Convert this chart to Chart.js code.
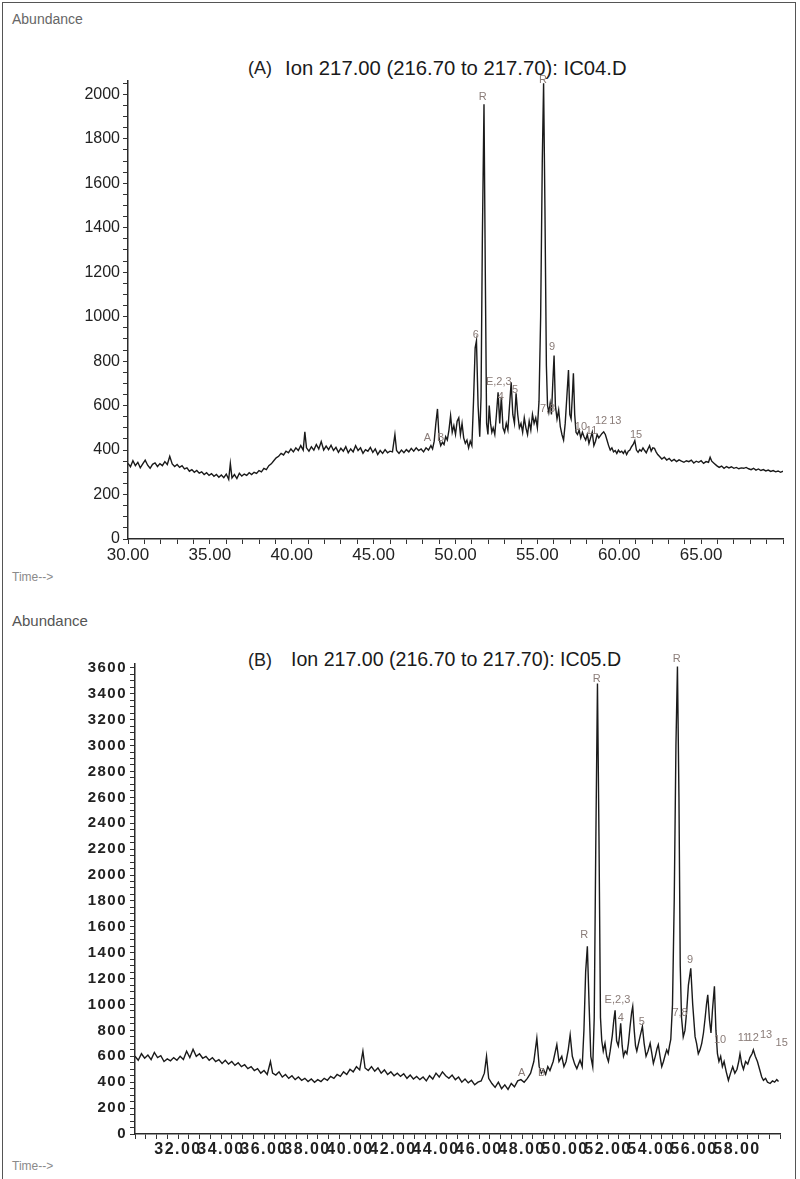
<!DOCTYPE html>
<html>
<head>
<meta charset="utf-8">
<script src="https://cdn.jsdelivr.net/npm/chart.js@4.4.1/dist/chart.umd.min.js"></script>
<style>
	html, body { margin: 0; padding: 0; background: #fff; }
	body { width: 800px; height: 1179px; position: relative; overflow: hidden; font-family: "Liberation Sans", Arial, sans-serif; }
	.frame { position: absolute; left: 2px; top: 2px; width: 794px; height: 1200px; border: 1.5px solid #555; box-sizing: border-box; }
	canvas { position: absolute; left: 0; }
	.txt { position: absolute; white-space: nowrap; line-height: 1; transform: translateY(-50%); }
	.abund { color: #666; }
	.panel-id { font-family: "Liberation Sans Narrow", "Liberation Sans", sans-serif; font-size: 18px; color: #222; }
	.title { color: #1a1a1a; }
	.time { color: #8a8a8a; font-size: 12px; }
</style>
</head>
<body>
<div class="frame"></div>

<div class="txt abund" style="left:12px; top:19px; font-size:14px;">Abundance</div>
<div class="txt panel-id" style="left:248px; top:68px;">(A)</div>
<div class="txt title" style="left:285px; top:68px; font-size:20.3px;">Ion 217.00 (216.70 to 217.70): IC04.D</div>
<div class="txt time" style="left:12px; top:577px;">Time--&gt;</div>

<div class="txt abund" style="left:12px; top:620px; font-size:15px; color:#555;">Abundance</div>
<div class="txt panel-id" style="left:248px; top:660px;">(B)</div>
<div class="txt title" style="left:291px; top:660px; font-size:19.6px;">Ion 217.00 (216.70 to 217.70): IC05.D</div>
<div class="txt time" style="left:12px; top:1166px;">Time--&gt;</div>

<canvas id="chart-a" width="800" height="600" style="top:0px;"></canvas>
<canvas id="chart-b" width="800" height="579" style="top:600px;"></canvas>

<script>
// Ion 217 trace, run IC04.D: [retention time (min), abundance]
const traceA = [
	[30.00, 340], [30.15, 325], [30.30, 352], [30.45, 330], [30.60, 345], [30.75, 320], [30.90, 338], [31.05, 355],
	[31.20, 332], [31.35, 318], [31.50, 336], [31.65, 342], [31.80, 326], [31.95, 339], [32.10, 330], [32.25, 348],
	[32.40, 335], [32.55, 372], [32.70, 338], [32.85, 326], [33.00, 335], [33.15, 322], [33.30, 330], [33.45, 315],
	[33.60, 320], [33.75, 305], [33.90, 312], [34.05, 300], [34.20, 308], [34.35, 296], [34.50, 302], [34.65, 290],
	[34.80, 298], [34.95, 286], [35.10, 294], [35.25, 282], [35.40, 290], [35.55, 278], [35.70, 288], [35.85, 276],
	[36.00, 292], [36.15, 268], [36.25, 340], [36.35, 275], [36.50, 290], [36.65, 272], [36.80, 296], [36.95, 283],
	[37.10, 292], [37.25, 286], [37.40, 298], [37.55, 290], [37.70, 300], [37.85, 295], [38.00, 308], [38.15, 302],
	[38.30, 318], [38.45, 312], [38.60, 330], [38.75, 338], [38.90, 352], [39.05, 365], [39.20, 372], [39.35, 385],
	[39.50, 378], [39.65, 395], [39.80, 388], [39.95, 405], [40.10, 392], [40.25, 410], [40.40, 398], [40.55, 420],
	[40.70, 400], [40.80, 482], [40.90, 410], [41.05, 395], [41.20, 415], [41.35, 400], [41.50, 425], [41.65, 405],
	[41.80, 438], [41.95, 400], [42.10, 418], [42.25, 402], [42.40, 422], [42.55, 398], [42.70, 412], [42.85, 390],
	[43.00, 408], [43.15, 395], [43.30, 415], [43.45, 388], [43.60, 405], [43.75, 392], [43.90, 420], [44.05, 398],
	[44.20, 410], [44.35, 385], [44.50, 402], [44.65, 395], [44.80, 412], [44.95, 390], [45.10, 405], [45.25, 380],
	[45.40, 398], [45.55, 385], [45.70, 402], [45.85, 388], [46.00, 395], [46.15, 392], [46.30, 470], [46.40, 398],
	[46.55, 385], [46.70, 400], [46.85, 388], [47.00, 402], [47.15, 392], [47.30, 408], [47.45, 395], [47.60, 410],
	[47.75, 398], [47.90, 405], [48.05, 392], [48.20, 410], [48.35, 400], [48.50, 420], [48.60, 405], [48.70, 440],
	[48.80, 520], [48.90, 585], [49.00, 450], [49.10, 420], [49.20, 435], [49.30, 425], [49.40, 460], [49.50, 445],
	[49.60, 490], [49.70, 555], [49.80, 480], [49.90, 510], [50.00, 470], [50.10, 530], [50.20, 545], [50.30, 470],
	[50.40, 520], [50.50, 455], [50.60, 430], [50.70, 445], [50.80, 410], [50.90, 440], [51.00, 420], [51.10, 620],
	[51.20, 860], [51.28, 892], [51.38, 600], [51.48, 460], [51.56, 640], [51.64, 1350], [51.74, 1955], [51.82, 1200],
	[51.90, 520], [51.98, 470], [52.06, 600], [52.14, 520], [52.22, 480], [52.30, 500], [52.40, 470], [52.50, 560],
	[52.60, 660], [52.70, 520], [52.80, 640], [52.90, 500], [53.00, 480], [53.10, 520], [53.20, 490], [53.30, 600],
	[53.40, 705], [53.50, 560], [53.60, 520], [53.70, 655], [53.80, 560], [53.90, 500], [54.00, 520], [54.10, 480],
	[54.20, 545], [54.30, 500], [54.40, 470], [54.50, 530], [54.60, 490], [54.70, 560], [54.80, 520], [54.90, 545],
	[55.00, 500], [55.10, 620], [55.20, 1000], [55.30, 1700], [55.38, 2050], [55.46, 1500], [55.55, 780], [55.62, 600],
	[55.70, 570], [55.78, 610], [55.86, 560], [55.94, 700], [56.02, 825], [56.10, 600], [56.20, 540], [56.30, 580],
	[56.40, 505], [56.50, 470], [56.60, 445], [56.70, 520], [56.80, 640], [56.90, 760], [56.98, 560], [57.06, 540],
	[57.14, 650], [57.20, 745], [57.28, 560], [57.36, 480], [57.45, 470], [57.55, 490], [57.65, 455], [57.75, 480],
	[57.85, 460], [57.95, 445], [58.05, 470], [58.15, 430], [58.25, 455], [58.35, 480], [58.45, 420], [58.55, 440],
	[58.65, 470], [58.75, 455], [58.85, 465], [58.95, 475], [59.05, 482], [59.15, 470], [59.25, 445], [59.35, 420],
	[59.45, 400], [59.55, 410], [59.65, 392], [59.75, 398], [59.85, 385], [59.95, 400], [60.05, 390], [60.15, 395],
	[60.25, 385], [60.35, 398], [60.45, 380], [60.55, 395], [60.65, 400], [60.75, 415], [60.85, 425], [60.95, 442],
	[61.05, 400], [61.15, 390], [61.25, 402], [61.35, 395], [61.45, 410], [61.55, 398], [61.65, 388], [61.75, 405],
	[61.85, 420], [61.95, 395], [62.05, 410], [62.15, 408], [62.25, 392], [62.35, 380], [62.45, 372], [62.60, 360],
	[62.75, 368], [62.90, 355], [63.05, 362], [63.20, 350], [63.35, 358], [63.50, 348], [63.65, 356], [63.80, 350],
	[63.95, 345], [64.10, 352], [64.25, 348], [64.40, 355], [64.55, 342], [64.70, 350], [64.85, 345], [65.00, 352],
	[65.15, 340], [65.30, 348], [65.45, 345], [65.55, 368], [65.65, 350], [65.80, 340], [65.95, 330], [66.10, 322],
	[66.25, 328], [66.40, 318], [66.55, 326], [66.70, 320], [66.85, 325], [67.00, 318], [67.15, 322], [67.30, 316],
	[67.45, 320], [67.60, 318], [67.75, 322], [67.90, 316], [68.05, 312], [68.20, 318], [68.35, 310], [68.50, 315],
	[68.65, 308], [68.80, 312], [68.95, 306], [69.10, 310], [69.25, 304], [69.40, 308], [69.55, 302], [69.70, 306],
	[69.85, 300], [70.00, 305],
];

// Ion 217 trace, run IC05.D: [retention time (min), abundance]
const traceB = [
	[30.00, 600], [30.15, 570], [30.30, 620], [30.45, 585], [30.60, 610], [30.75, 575], [30.90, 630], [31.05, 590],
	[31.20, 605], [31.35, 560], [31.50, 580], [31.65, 565], [31.80, 590], [31.95, 570], [32.10, 600], [32.25, 575],
	[32.40, 640], [32.55, 590], [32.70, 655], [32.85, 600], [33.00, 620], [33.15, 585], [33.30, 600], [33.45, 570],
	[33.60, 590], [33.75, 560], [33.90, 575], [34.05, 545], [34.20, 570], [34.35, 540], [34.50, 560], [34.65, 530],
	[34.80, 550], [34.95, 520], [35.10, 535], [35.25, 505], [35.40, 520], [35.55, 490], [35.70, 505], [35.85, 470],
	[36.00, 490], [36.15, 460], [36.30, 560], [36.40, 470], [36.55, 455], [36.70, 480], [36.85, 440], [37.00, 460],
	[37.15, 430], [37.30, 450], [37.45, 420], [37.60, 440], [37.75, 415], [37.90, 430], [38.05, 405], [38.20, 425],
	[38.35, 400], [38.50, 420], [38.65, 405], [38.80, 430], [38.95, 415], [39.10, 445], [39.25, 430], [39.40, 460],
	[39.55, 445], [39.70, 480], [39.85, 460], [40.00, 500], [40.15, 480], [40.30, 520], [40.45, 495], [40.60, 640],
	[40.70, 510], [40.85, 490], [41.00, 520], [41.15, 485], [41.30, 510], [41.45, 470], [41.60, 495], [41.75, 460],
	[41.90, 480], [42.05, 450], [42.20, 470], [42.35, 445], [42.50, 465], [42.65, 430], [42.80, 455], [42.95, 425],
	[43.10, 445], [43.25, 420], [43.40, 440], [43.55, 410], [43.70, 450], [43.85, 425], [44.00, 470], [44.15, 440],
	[44.30, 480], [44.45, 450], [44.60, 430], [44.75, 455], [44.90, 420], [45.05, 440], [45.20, 400], [45.35, 425],
	[45.50, 395], [45.65, 415], [45.80, 380], [45.95, 400], [46.10, 410], [46.25, 470], [46.35, 600], [46.45, 430],
	[46.60, 390], [46.75, 360], [46.90, 400], [47.05, 350], [47.20, 380], [47.35, 345], [47.50, 390], [47.65, 365],
	[47.80, 410], [47.95, 420], [48.10, 400], [48.25, 430], [48.40, 470], [48.55, 560], [48.69, 740], [48.80, 520],
	[48.90, 470], [49.00, 500], [49.10, 460], [49.20, 520], [49.30, 490], [49.45, 560], [49.62, 690], [49.72, 560],
	[49.85, 600], [49.95, 520], [50.05, 560], [50.15, 650], [50.24, 765], [50.34, 600], [50.45, 540], [50.55, 505],
	[50.70, 570], [50.80, 520], [50.88, 800], [50.96, 1250], [51.04, 1450], [51.12, 1000], [51.20, 600], [51.29, 520],
	[51.36, 900], [51.43, 2200], [51.51, 3480], [51.58, 2300], [51.65, 900], [51.71, 720], [51.78, 640], [51.86, 700],
	[51.94, 600], [52.02, 560], [52.10, 640], [52.20, 760], [52.27, 880], [52.33, 955], [52.40, 720], [52.48, 680],
	[52.54, 760], [52.59, 855], [52.66, 680], [52.72, 600], [52.80, 640], [52.88, 620], [52.95, 700], [53.02, 820],
	[53.10, 940], [53.15, 985], [53.22, 800], [53.28, 680], [53.34, 640], [53.42, 700], [53.50, 760], [53.60, 830],
	[53.68, 700], [53.77, 600], [53.86, 640], [53.96, 700], [54.04, 620], [54.11, 545], [54.20, 600], [54.28, 660],
	[54.34, 690], [54.42, 600], [54.50, 520], [54.58, 560], [54.66, 610], [54.73, 650], [54.80, 620], [54.86, 680],
	[54.92, 730], [55.00, 1000], [55.08, 1800], [55.16, 3000], [55.23, 3610], [55.30, 2600], [55.36, 1300], [55.42, 900],
	[55.50, 750], [55.58, 800], [55.66, 950], [55.74, 1150], [55.85, 1280], [55.94, 1000], [56.05, 752], [56.12, 700],
	[56.20, 620], [56.28, 650], [56.36, 700], [56.44, 780], [56.52, 900], [56.58, 1000], [56.64, 1075], [56.72, 880],
	[56.79, 780], [56.86, 960], [56.95, 1140], [57.02, 800], [57.09, 620], [57.16, 560], [57.24, 600], [57.32, 520],
	[57.40, 560], [57.50, 480], [57.60, 415], [57.70, 470], [57.80, 520], [57.90, 470], [58.00, 500], [58.08, 560],
	[58.14, 620], [58.22, 540], [58.30, 500], [58.40, 560], [58.50, 540], [58.60, 590], [58.70, 620], [58.76, 650],
	[58.85, 600], [58.95, 560], [59.05, 500], [59.15, 440], [59.23, 415], [59.33, 430], [59.42, 400], [59.54, 390],
	[59.65, 410], [59.75, 400], [59.85, 420], [59.93, 405],
];

// Labelled axis ticks
const timeLabelsA = [30, 35, 40, 45, 50, 55, 60, 65];
const timeLabelsB = [32, 34, 36, 38, 40, 42, 44, 46, 48, 50, 52, 54, 56, 58];
const abundLabelsA = [0, 200, 400, 600, 800, 1000, 1200, 1400, 1600, 1800, 2000];
const abundLabelsB = [0, 200, 400, 600, 800, 1000, 1200, 1400, 1600, 1800, 2000, 2200, 2400, 2600, 2800, 3000, 3200, 3400, 3600];

// Peak annotations, panel (A)
const peakTextA = ["R", "R", "6", "E,2,3", "4", "5", "7,8", "9", "A", "B", "10", "11", "12", "13", "15"];
const peakTimeA = [51.66, 55.34, 51.24, 52.64, 52.77, 53.64, 55.62, 55.89, 48.28, 49.09, 57.66, 58.31, 58.89, 59.76, 61.03];
const peakAbundA = [1987, 2063, 917, 706, 637, 670, 587, 863, 455, 455, 505, 487, 530, 530, 467];

// Peak annotations, panel (B)
const peakTextB = ["R", "R", "R", "E,2,3", "4", "5", "7,8", "9", "A", "B", "10", "11", "12", "13", "15"];
const peakTimeB = [50.89, 51.48, 55.20, 52.44, 52.59, 53.57, 55.35, 55.82, 47.99, 48.92, 57.21, 58.30, 58.73, 59.35, 60.08];
const peakAbundB = [1538, 3514, 3668, 1036, 893, 867, 931, 1344, 469, 469, 726, 739, 739, 765, 700];

/**
 * Build evenly spaced tick positions (major and minor marks) for an axis
 */
function tickRange(from, to, step) {
	const out = [];
	const n = Math.round((to - from) / step);
	for (let i = 0; i <= n; i++) out.push({ value: Math.round((from + i * step) * 1000) / 1000 });
	return out;
}

/**
 * Draw one chromatogram panel on the given canvas
 */
function drawPanel(canvasId, trace, cfg) {
	const peakLabels = {
		id: "peakLabels",
		beforeDraw(chart) {
			chart.ctx.letterSpacing = cfg.letterSpacing;
		},
		afterDraw(chart) {
			const ctx = chart.ctx;
			const xs = chart.scales.x;
			const ys = chart.scales.y;
			ctx.save();
			ctx.letterSpacing = "0px";
			ctx.font = "11px 'Liberation Sans', Arial, sans-serif";
			ctx.fillStyle = "#8a7c78";
			ctx.textAlign = "center";
			ctx.textBaseline = "middle";
			cfg.peakText.forEach((t, i) => {
				ctx.fillText(t, xs.getPixelForValue(cfg.peakTime[i]), ys.getPixelForValue(cfg.peakAbund[i]));
			});
			ctx.restore();
		},
	};

	return new Chart(document.getElementById(canvasId), {
		type: "line",
		data: {
			datasets: [
				{
					data: trace.map((p) => ({ x: p[0], y: p[1] })),
					borderColor: "#1a1a1a",
					borderWidth: 1.4,
					pointRadius: 0,
					tension: 0,
					fill: false,
				},
			],
		},
		options: {
			responsive: false,
			animation: false,
			devicePixelRatio: 1,
			layout: { padding: cfg.padding },
			plugins: { legend: { display: false }, tooltip: { enabled: false } },
			scales: {
				x: {
					type: "linear",
					min: cfg.xMin,
					max: cfg.xMax,
					afterBuildTicks: (scale) => { scale.ticks = tickRange(cfg.xMin, cfg.xMax, cfg.xStep); },
					afterFit: (scale) => { scale.height = cfg.xAxisHeight; },
					border: { display: true, color: "#2a2a2a", width: 1.5 },
					grid: { drawOnChartArea: false, drawTicks: true, tickLength: 5, tickColor: "#333", tickWidth: 1 },
					ticks: {
						autoSkip: false,
						maxRotation: 0,
						minRotation: 0,
						padding: 1,
						color: "#222",
						font: cfg.xFont,
						callback: (v) => (cfg.xLabels.includes(v) ? v.toFixed(2) : ""),
					},
				},
				y: {
					type: "linear",
					min: 0,
					max: cfg.yMax,
					afterBuildTicks: (scale) => { scale.ticks = tickRange(0, cfg.yTickMax, 50); },
					afterFit: (scale) => { scale.width = cfg.yAxisWidth; },
					border: { display: true, color: "#2a2a2a", width: 1.5 },
					grid: { drawOnChartArea: false, drawTicks: true, tickLength: 5, tickColor: "#333", tickWidth: 1 },
					ticks: {
						autoSkip: false,
						padding: 3,
						color: "#222",
						font: cfg.yFont,
						callback: (v) => (cfg.yLabels.includes(v) ? String(v) : ""),
					},
				},
			},
		},
		plugins: [peakLabels],
	});
}

drawPanel("chart-a", traceA, {
	padding: { left: 0, right: 17, top: 81, bottom: 0 },
	xMin: 30, xMax: 70, xStep: 1, xAxisHeight: 61,
	yMax: 2060, yTickMax: 2050, yAxisWidth: 128,
	xLabels: timeLabelsA, yLabels: abundLabelsA,
	xFont: { family: "'Liberation Sans', Arial, sans-serif", size: 17 },
	yFont: { family: "'Liberation Sans', Arial, sans-serif", size: 16 },
	letterSpacing: "0px",
	peakText: peakTextA, peakTime: peakTimeA, peakAbund: peakAbundA,
});

drawPanel("chart-b", traceB, {
	padding: { left: 0, right: 20, top: 64, bottom: 0 },
	xMin: 30, xMax: 60, xStep: 0.5, xAxisHeight: 45,
	yMax: 3630, yTickMax: 3600, yAxisWidth: 135,
	xLabels: timeLabelsB, yLabels: abundLabelsB,
	xFont: { family: "'Liberation Sans', Arial, sans-serif", size: 16, weight: "bold" },
	yFont: { family: "'Liberation Sans', Arial, sans-serif", size: 15, weight: "bold" },
	letterSpacing: "1.5px",
	peakText: peakTextB, peakTime: peakTimeB, peakAbund: peakAbundB,
});
</script>
</body>
</html>
